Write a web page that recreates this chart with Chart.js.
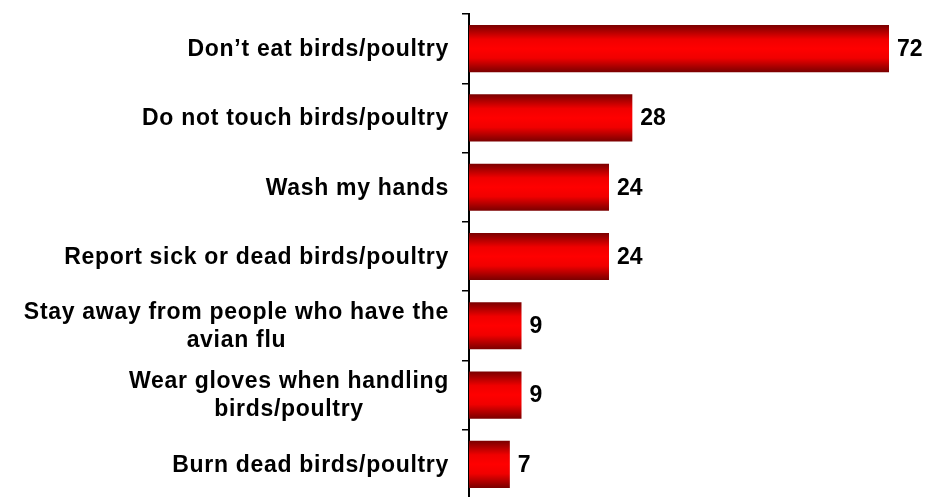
<!DOCTYPE html>
<html lang="en">
<head>
    <meta charset="UTF-8">
    <title>Avian flu precautions</title>
    <script src="https://cdn.jsdelivr.net/npm/chart.js@4"></script>
    <style>
        html, body { margin: 0; padding: 0; overflow: hidden; background: #fff; }
        #zone { position: relative; width: 925px; height: 499px; }
    </style>
</head>
<body>
<div id="zone"><canvas id="myChart"></canvas></div>
<script>
    // Categories (each entry = lines of the label)
    let categories = [
        ['Don\u2019t eat birds/poultry'],
        ['Do not touch birds/poultry'],
        ['Wash my hands'],
        ['Report sick or dead birds/poultry'],
        ['Stay away from people who have the', 'avian flu'],
        ['Wear gloves when handling', 'birds/poultry'],
        ['Burn dead birds/poultry']
    ];

    // Percentages
    let valeurs = [72, 28, 24, 24, 9, 9, 7];

    let police = 'bold 23px "Liberation Sans", Arial, sans-serif';

    // Red bar with dark top/bottom edges
    let degrade = (context) => {
        let chart = context.chart;
        let echelleY = chart.scales.y;
        if (!echelleY || context.dataIndex === undefined) {
            return '#ff0000';
        }
        let centre = echelleY.getPixelForValue(context.dataIndex);
        let demi = echelleY.getPixelForValue(1) - echelleY.getPixelForValue(0);
        demi = demi * 0.68 / 2;
        if (!isFinite(centre) || !isFinite(demi) || demi <= 0) {
            return '#ff0000';
        }
        let g = chart.ctx.createLinearGradient(0, centre - demi, 0, centre + demi);
        g.addColorStop(0, '#7a0000');
        g.addColorStop(0.3, '#f00000');
        g.addColorStop(0.5, '#ff0000');
        g.addColorStop(0.7, '#f00000');
        g.addColorStop(1, '#7a0000');
        return g;
    };

    // Category labels: block right-aligned, lines centered inside the block
    let etiquettesCategories = {
        id: 'etiquettesCategories',
        afterDraw(chart) {
            let ctx = chart.ctx;
            let echelleY = chart.scales.y;
            ctx.save();
            ctx.font = police;
            ctx.letterSpacing = '0.7px';
            ctx.fillStyle = '#000';
            ctx.textAlign = 'center';
            ctx.textBaseline = 'middle';
            let hauteurLigne = 28;
            categories.forEach((lignes, i) => {
                let largeur = Math.max(...lignes.map(l => ctx.measureText(l).width));
                let x = 449 - largeur / 2;
                let y = echelleY.getPixelForValue(i) - (lignes.length - 1) * hauteurLigne / 2;
                lignes.forEach((ligne, j) => {
                    ctx.fillText(ligne, x, y + j * hauteurLigne + 1);
                });
            });
            ctx.restore();
        }
    };

    // Value written after the end of each bar
    let etiquettesValeurs = {
        id: 'etiquettesValeurs',
        afterDatasetsDraw(chart) {
            let ctx = chart.ctx;
            ctx.save();
            ctx.font = police;
            ctx.fillStyle = '#000';
            ctx.textAlign = 'left';
            ctx.textBaseline = 'middle';
            chart.getDatasetMeta(0).data.forEach((barre, i) => {
                ctx.fillText(valeurs[i], barre.x + 8, barre.y + 1);
            });
            ctx.restore();
        }
    };

    let ctx = document.getElementById('myChart').getContext('2d');
    let chart = new Chart(ctx, {
        type: 'bar',
        data: {
            labels: categories,
            datasets: [{
                data: valeurs,
                backgroundColor: degrade,
                borderWidth: 0,
                categoryPercentage: 1,
                barPercentage: 0.68
            }]
        },
        options: {
            indexAxis: 'y',
            responsive: true,
            maintainAspectRatio: false,
            animation: false,
            layout: { padding: { top: 14, right: 36, bottom: 0, left: 0 } },
            plugins: {
                legend: { display: false },
                tooltip: { enabled: false }
            },
            scales: {
                x: {
                    display: false,
                    min: 0,
                    max: 72
                },
                y: {
                    afterFit: (echelle) => { echelle.width = 469; },
                    ticks: { display: false },
                    grid: {
                        drawOnChartArea: false,
                        drawTicks: true,
                        tickLength: 7,
                        color: '#000',
                        lineWidth: 1.5
                    },
                    border: { display: true, color: '#000', width: 2 }
                }
            }
        },
        plugins: [etiquettesCategories, etiquettesValeurs]
    });
</script>
</body>
</html>
